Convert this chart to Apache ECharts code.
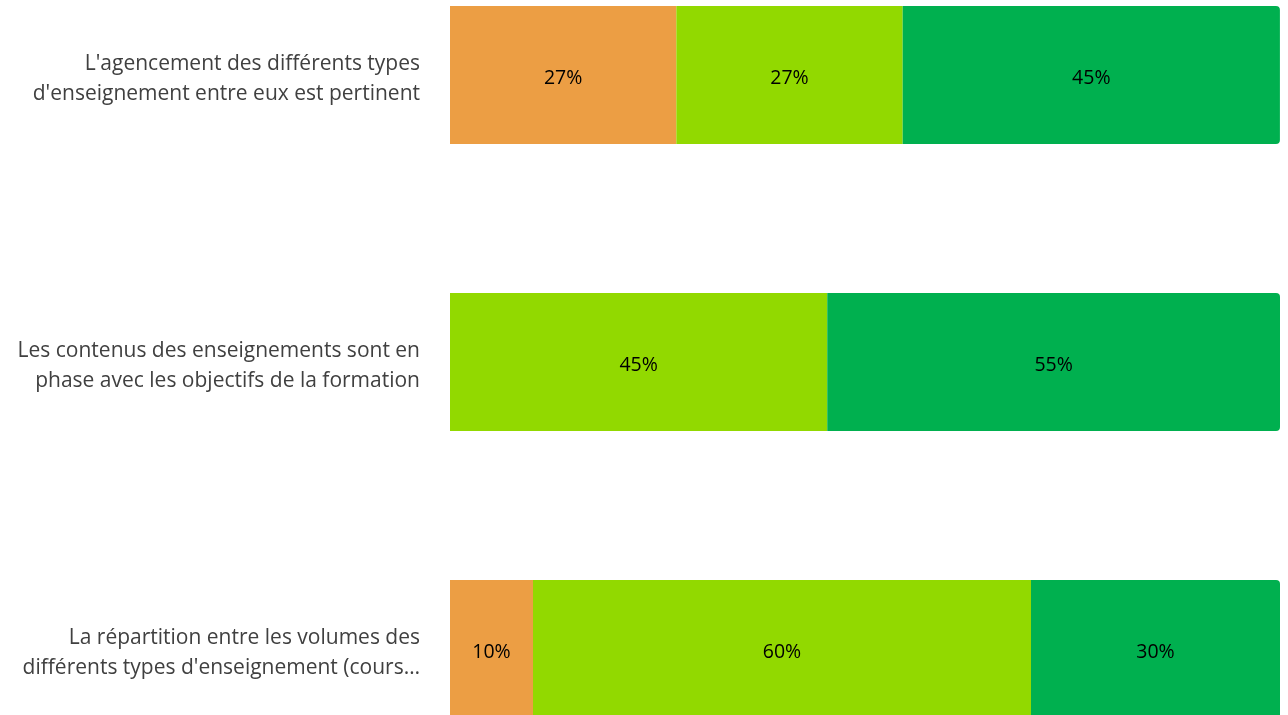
<!DOCTYPE html>
<html><head><meta charset="utf-8">
<script src="https://cdn.jsdelivr.net/npm/echarts@6/dist/echarts.min.js"></script>
<style>html,body{margin:0;padding:0;background:#fff}#c{width:1288px;height:715px}</style>
</head><body><div id="c"></div>
<script>
const categories = [
  "L'agencement des différents types\nd'enseignement entre eux est pertinent",
  "Les contenus des enseignements sont en\nphase avec les objectifs de la formation",
  "La répartition entre les volumes des\ndifférents types d'enseignement (cours…"
];
const seriesOrange = [27.27, 0, 10];
const seriesLime = [27.27, 45.45, 60];
const seriesGreen = [45.45, 54.55, 30];
const colors = ['#EC9E44', '#92D900', '#00B04F'];

const chart = echarts.init(document.getElementById('c'));
const lbl = {
  show: true, position: 'inside', color: '#000', fontFamily: 'Open Sans', fontSize: 19.5,
  offset: [0, 3],
  formatter: p => p.value > 0 ? Math.round(p.value) + '%' : ''
};
function mk(data, color, radius) {
  return { type: 'bar', stack: 's', data: data, barWidth: 138,
    itemStyle: { color: color, borderRadius: radius }, label: lbl, silent: true };
}
const txt = { color: '#404040', fontFamily: 'Open Sans', fontSize: 21, lineHeight: 30, align: 'right' };
chart.setOption({
  animation: false,
  grid: { left: 450, right: 8, top: 75, bottom: 66 },
  xAxis: { type: 'value', min: 0, max: 100, show: false },
  yAxis: { type: 'category', data: categories, inverse: true, boundaryGap: false,
    axisLine: { show: false }, axisTick: { show: false }, splitLine: { show: false },
    axisLabel: { margin: 30, align: 'right', fontSize: 21, lineHeight: 30,
      formatter: v => '{s| }\n' + v.split('\n').map(s => '{a|' + s + '}').join('\n'),
      rich: { s: { fontSize: 4, lineHeight: 8 }, a: txt } } },
  series: [
    mk(seriesOrange, colors[0], 0),
    mk(seriesLime, colors[1], 0),
    mk(seriesGreen, colors[2], [0, 4, 4, 0])
  ]
});
</script></body></html>
